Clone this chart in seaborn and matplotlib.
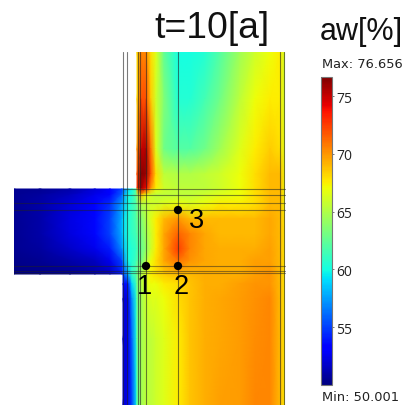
import numpy as np
import pandas as pd
import matplotlib
matplotlib.use("Agg")
import matplotlib.pyplot as plt
import seaborn as sns

N = np.nan
title = "t=10[a]"
unit = "aw[%]"
vmin, vmax = 50.001, 76.656
cbar_ticks = [55, 60, 65, 70, 75]

col_px = [14, 40, 70, 95, 110, 122, 123, 128, 132, 136.5, 137, 141, 146, 151, 156, 164, 178, 190, 205, 220, 240, 255, 270, 280, 285]
row_px = [53, 100, 150, 175, 189.5, 190, 196, 205, 220, 235, 250, 262, 275, 275.5, 285, 300, 340, 406]

r053 = [N]*10 + [68, 70.5, 70.5, 68, 66.5, 62.5, 60, 60, 60.5, 62, 64.5, 66, 67, 67.5, 66]
r100 = [N]*10 + [68, 72, 72, 68.5, 66, 63.5, 60.5, 60.5, 61.5, 63, 65.5, 67, 67.5, 67.5, 66]
r150 = [N]*10 + [70, 75, 75.5, 71, 66.5, 63, 62, 62, 63, 64.5, 66.5, 67.5, 68.5, 68, 66.5]
r175 = [N]*10 + [72, 76.5, 76, 72, 68, 65.5, 65, 65, 65.5, 66, 67, 68, 69, 69, 67]
r189 = [N]*10 + [73, 76, 74, 70, 67.5, 66, 65.5, 65.5, 65.5, 66, 67, 68, 69, 69, 67]
r190 = [50.5, 50.5, 51, 52, 53, 55, 56, 59, 60, 62, 70, 75, 73, 69, 67, 66, 65.5, 65.5, 65.5, 66, 67, 68, 69, 69, 67]
r196 = [50.5, 50.8, 51.5, 52.5, 53.5, 56, 57, 60, 60.5, 63, 64, 69, 67, 66, 65.5, 65.5, 65.5, 65.5, 66, 66.5, 67, 68, 69, 69, 67]
r205 = [50.5, 51, 52, 53, 54.5, 57.5, 58, 60, 61, 62, 63, 65, 65.5, 66, 66, 66.5, 67, 66.5, 67, 67.5, 67.5, 68, 69, 69, 67]
r220 = [50.5, 51, 52.3, 53.5, 55, 58, 59, 60.5, 61, 62, 62.5, 63.5, 65, 66.5, 67.5, 69, 70, 69, 69, 69, 69, 69, 69.5, 69, 67.5]
r235 = [50.5, 51, 52.2, 53.5, 55, 58, 59, 60.5, 61, 61.5, 62, 63, 64.5, 66, 67.5, 69.5, 71.5, 70.5, 69.5, 69, 69, 69, 69.5, 69, 67.5]
r250 = [50.5, 50.8, 51.7, 52.5, 54, 57, 58, 60, 60.5, 61, 61.5, 62.5, 64, 66, 67.5, 69.5, 72.5, 70.5, 69.5, 69.3, 69.3, 69.3, 69.7, 69, 67.5]
r262 = [50.3, 50.5, 51, 51.5, 52.5, 55, 56.5, 60, 60.5, 61.5, 62, 63, 65, 67, 68, 69.5, 71, 70, 69.5, 69.3, 69.3, 69.7, 69.7, 69, 67.5]
r275 = [50.2, 50.3, 50.5, 51, 51.5, 54, 55, 58, 61, 62, 63, 65, 66.5, 67.5, 68, 68.5, 69, 69, 69.3, 69.3, 69.3, 69.7, 70, 69, 67.5]
r276 = [N]*6 + [55, 58, 61, 62, 63, 65, 66.5, 67.5, 68, 68.5, 69, 69, 69.3, 69.3, 69.3, 69.7, 70, 69, 67.5]
r285 = [N]*6 + [53, 54, 59, 61.5, 63, 65, 66.5, 67, 67, 67.5, 68, 68.7, 69.3, 69.3, 69.7, 70, 70, 69, 67.5]
r300 = [N]*6 + [52, 52.5, 57, 60.5, 62.5, 64.5, 66, 66.5, 66.5, 67, 68, 68.7, 69.3, 69.5, 69.8, 70.2, 70.5, 69, 67.5]
r340 = [N]*6 + [52, 52.5, 56, 60, 62.5, 64.5, 65.5, 65.5, 66, 66.5, 67.5, 68.7, 69.3, 69.5, 69.8, 70.3, 70.5, 69, 67.5]
r406 = [N]*6 + [52, 52.5, 55, 59.5, 62, 64.5, 65.5, 65.5, 66, 66.5, 67.5, 68.7, 69.3, 69.7, 69.8, 70.5, 70.5, 69, 67.5]
rows = [r053, r100, r150, r175, r189, r190, r196, r205, r220, r235, r250, r262, r275, r276, r285, r300, r340, r406]

grid_v_full = [123, 127]
grid_v_wall = [138, 140, 146, 178, 280, 284]
grid_h_top = [190, 196]
grid_h_full = [204, 211, 267, 272, 274]
probe_x = [146, 178, 178]
probe_y = [267, 267, 211]
probe_labels = ["1", "2", "3"]
label_x = [145, 181, 197]
label_y = [287, 287, 221]

W = 406
fig = plt.figure(figsize=(W/100, W/100), dpi=100, facecolor="white")
sns.set_style("white")
x0, x1, y0, y1 = col_px[0], col_px[-1], row_px[0], row_px[-1]
ax = fig.add_axes([x0/W, 1-y1/W, (x1-x0)/W, (y1-y0)/W])
cax = fig.add_axes([321/W, 1-386/W, 11/W, 308/W])

df = pd.DataFrame(rows, index=row_px, columns=col_px)
sns.heatmap(df, ax=ax, cmap="jet", vmin=vmin, vmax=vmax, shading="gouraud",
            xticklabels=False, yticklabels=False, cbar_ax=cax,
            cbar_kws={"ticks": cbar_ticks})

ix = np.arange(len(col_px), dtype=float)
iy = np.arange(len(row_px), dtype=float)
ax.set_xscale("function", functions=(lambda v: np.interp(v, ix, col_px), lambda v: np.interp(v, col_px, ix)))
ax.set_yscale("function", functions=(lambda v: np.interp(v, iy, row_px), lambda v: np.interp(v, row_px, iy)))
ax.set_xlim(0, len(col_px)-1)
ax.set_ylim(len(row_px)-1, 0)
ax.set_xticks([]); ax.set_yticks([])
ax.minorticks_off()
for s in ax.spines.values():
    s.set_visible(False)

# colour bar styling
cb = ax.collections[0].colorbar
cb.outline.set_edgecolor("#777777")
cb.outline.set_linewidth(0.8)
cax.tick_params(axis="y", direction="out", length=1.5, width=0.5, color="#444444",
                labelsize=10, labelcolor="#222222", pad=1.5)
for t in cax.get_yticklabels():
    t.set_fontfamily("Open Sans")

# overlay in picture pixels
ov = fig.add_axes([0, 0, 1, 1], facecolor="none")
ov.set_xlim(0, W); ov.set_ylim(W, 0); ov.axis("off")
lc = "#222222"
for xv in grid_v_full:
    ov.plot([xv, xv], [y0, y1], color=lc, lw=0.8, alpha=0.6)
for xv in grid_v_wall:
    ov.plot([xv, xv], [y0, y1], color=lc, lw=0.8, alpha=0.6)
for yv in grid_h_top:
    ov.plot([123, 285], [yv, yv], color=lc, lw=0.8, alpha=0.55)
for yv in grid_h_full:
    ov.plot([14, 285], [yv, yv], color=lc, lw=0.8, alpha=0.5)
sns.scatterplot(x=probe_x, y=probe_y, ax=ov, color="black", s=36, edgecolor="none", zorder=5, legend=False)
ov.set_xlim(0, W); ov.set_ylim(W, 0); ov.axis("off")

sans = "Liberation Sans"
for tx, ty, s in zip(label_x, label_y, probe_labels):
    ov.text(tx, ty, s, fontsize=19.5, family=sans, ha="center", va="center", color="black")
ov.text(211.5, 28, title, fontsize=26.8, family=sans, ha="center", va="center", color="#111111")
ov.text(361.5, 32, unit, fontsize=22, family=sans, ha="center", va="center", color="#111111")
ov.text(322, 64, f"Max: {vmax:.3f}", fontsize=9.4, family="DejaVu Sans", ha="left", va="center", color="#222222")
ov.text(322, 398, f"Min: {vmin:.3f}", fontsize=9.4, family="DejaVu Sans", ha="left", va="center", color="#222222")

fig.savefig("out.png", dpi=100, facecolor="white")
